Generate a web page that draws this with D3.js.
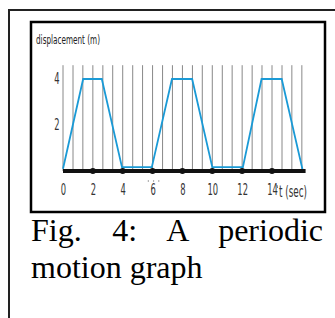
<!DOCTYPE html>
<html>
<head>
<meta charset="utf-8">
<script src="https://cdn.jsdelivr.net/npm/d3@7"></script>
<style>
  body { margin: 0; background: #fff; }
  #wrap { position: relative; width: 335px; height: 318px; overflow: hidden; }
  svg { position: absolute; left: 0; top: 0; }
  #caption {
    position: absolute; left: 31px; top: 212px; width: 292px;
    font-family: "Liberation Serif", "Times New Roman", serif;
    font-size: 32px; line-height: 37px; text-align: justify; color: #000;
  }
</style>
</head>
<body>
<div id="wrap">
  <svg id="chart" width="335" height="318"></svg>
  <div id="caption">Fig. 4: A periodic motion graph</div>
</div>
<script>
// t (sec) vs displacement (m)
const tValues = [0, 1.35, 2.6, 3.95, 5.95, 7.3, 8.65, 10, 12.05, 13.3, 14.65, 16.05];
const dispValues = [0.1, 4, 4, 0.17, 0.17, 4, 4, 0.17, 0.17, 4, 4, 0.05];
const xTicks = [0, 2, 4, 6, 8, 10, 12, 14];
const yTicks = [2, 4];
const gridT = [0, 0.67, 1.33, 2, 2.67, 3.33, 4, 4.67, 5.33, 6, 6.67, 7.33, 8,
               8.67, 9.33, 10, 10.67, 11.33, 12, 12.67, 13.33, 14, 14.67, 15.33, 16];
const gridTop = 4.6;

const svg = d3.select('#chart');

// outer frame (only top and left show)
svg.append('path')
    .attr('d', 'M9,318 V10 H335')
    .attr('fill', 'none')
    .attr('stroke', '#222')
    .attr('stroke-width', 2);

// inner box
svg.append('rect')
    .attr('x', 31).attr('y', 22)
    .attr('width', 294).attr('height', 190)
    .attr('fill', '#fff')
    .attr('stroke', '#000')
    .attr('stroke-width', 2.5);

const x = d3.scaleLinear().domain([0, 14]).range([63, 272]);
const y = d3.scaleLinear().domain([0, 4]).range([171, 79]);

const narrow = '"Liberation Sans Narrow", "DejaVu Sans Condensed", sans-serif';

// vertical pencil lines
svg.append('g')
    .selectAll('line')
    .data(gridT)
    .enter()
    .append('line')
    .attr('x1', d => x(d)).attr('x2', d => x(d))
    .attr('y1', y(gridTop)).attr('y2', y(0))
    .attr('stroke', '#888')
    .attr('stroke-width', 1);

// displacement curve
const line = d3.line()
    .x((d, i) => x(tValues[i]))
    .y(d => y(d));
svg.append('path')
    .datum(dispValues)
    .attr('d', line)
    .attr('fill', 'none')
    .attr('stroke', '#1a9ad6')
    .attr('stroke-width', 1.8);

// thick base line with dots
svg.append('line')
    .attr('x1', x(0)).attr('x2', x(16.25))
    .attr('y1', y(0)).attr('y2', y(0))
    .attr('stroke', '#111')
    .attr('stroke-width', 4);
svg.append('g')
    .selectAll('circle')
    .data(xTicks.slice(1))
    .enter()
    .append('circle')
    .attr('cx', d => x(d))
    .attr('cy', y(0))
    .attr('r', 3)
    .attr('fill', '#111');

// x axis labels
const xAxis = svg.append('g')
    .attr('transform', `translate(0,${y(0) + 13})`)
    .call(d3.axisBottom(x).tickValues(xTicks).tickSize(0).tickPadding(0).tickFormat(d3.format('d')));
xAxis.select('.domain').remove();
xAxis.selectAll('text')
    .attr('fill', '#333')
    .attr('font-family', narrow)
    .attr('font-size', 15)
    .attr('transform', 'scale(0.62,1)');

// y axis labels
const yAxis = svg.append('g')
    .attr('transform', 'translate(59,0)')
    .call(d3.axisLeft(y).tickValues(yTicks).tickSize(0).tickPadding(0).tickFormat(d3.format('d')));
yAxis.select('.domain').remove();
yAxis.selectAll('text')
    .attr('fill', '#333')
    .attr('font-family', narrow)
    .attr('font-size', 15)
    .attr('text-anchor', 'middle')
    .attr('transform', 'translate(-2,0) scale(0.62,1)');

// stray specks from the scan
svg.append('g')
    .selectAll('circle')
    .data([-0.35, 0, 0.35])
    .enter()
    .append('circle')
    .attr('cx', d => x(6 + d) + 1)
    .attr('cy', 181)
    .attr('r', 0.7)
    .attr('fill', '#888');
svg.append('line')
    .attr('x1', x(14) + 5).attr('x2', x(14) + 5.6)
    .attr('y1', 185).attr('y2', 188)
    .attr('stroke', '#555')
    .attr('stroke-width', 0.8);

svg.append('text')
    .attr('x', 279).attr('y', 197)
    .attr('textLength', 28)
    .attr('lengthAdjust', 'spacingAndGlyphs')
    .attr('fill', '#333')
    .attr('font-family', narrow)
    .attr('font-size', 15)
    .text('t (sec)');

svg.append('text')
    .attr('x', 36).attr('y', 44)
    .attr('textLength', 64)
    .attr('lengthAdjust', 'spacingAndGlyphs')
    .attr('fill', '#222')
    .attr('font-family', narrow)
    .attr('font-size', 13)
    .text('displacement (m)');
</script>
</body>
</html>
